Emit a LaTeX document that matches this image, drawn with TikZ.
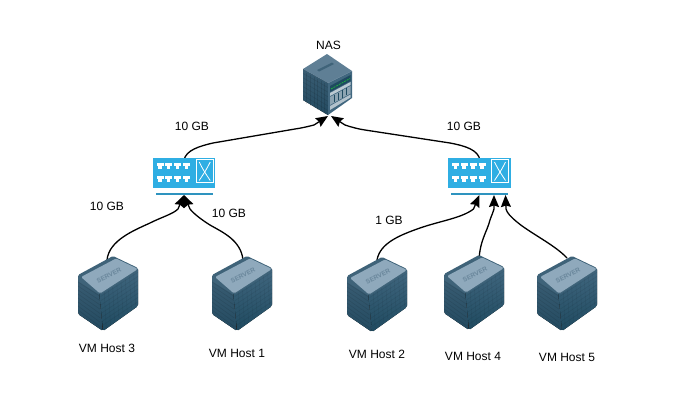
\documentclass[tikz,border=0pt]{standalone}
\usepackage{fontspec}
\setmainfont{Liberation Sans}
\usetikzlibrary{arrows.meta}
\definecolor{swblue}{HTML}{2FAEE3}
\definecolor{swbar}{HTML}{2E93BF}
\definecolor{srvtop}{HTML}{8FA9BC}
\definecolor{srvtopd}{HTML}{6A879C}
\definecolor{srvband}{HTML}{3F6379}
\definecolor{srvl}{HTML}{3A5D73}
\definecolor{srvld}{HTML}{234A60}
\definecolor{srvr}{HTML}{41677F}
\definecolor{srvrd}{HTML}{1F4A60}
\definecolor{nastop}{HTML}{5F7F95}
\tikzset{
  x=1pt,y=-1pt,
  lbl/.style={font=\fontsize{12}{14}\selectfont,text=black,inner sep=0pt},
  link/.style={line width=1.3pt,black,line cap=round,-{Stealth[length=12pt,width=10pt,inset=1.5pt]}},
  server/.pic={
    \fill[rounded corners=1.5pt,top color=srvr,bottom color=srvrd] (21,36) -- (60,12) -- (60,50) -- (25,75) -- cycle;
    \fill[rounded corners=1.5pt,top color=srvl,bottom color=srvld] (0,22) -- (21,36) -- (25,75) -- (0,58) -- cycle;
    \foreach \i in {1,...,8}{
      \draw[black,opacity=.10,line width=.5pt] (0,{22+4*\i}) -- (22,{36+4.3*\i});
      \draw[black,opacity=.08,line width=.5pt] (23,{36+4.3*\i}) -- (60,{12+4.2*\i});
      \draw[black,opacity=.07,line width=.5pt] ({22+4.2*\i},{38-2.7*\i}) -- ({24+4.2*\i},{74-3.1*\i});
    }
    \fill[rounded corners=1.5pt,srvband] (0,19) -- (35,0) -- (60,12) -- (60,15) -- (22,39) -- (0,25) -- cycle;
    \fill[rounded corners=1.5pt,srvtop] (3,21) -- (38,2.5) -- (60,13) -- (22,37.5) -- cycle;
    \node[rotate=27,text=srvtopd,font=\fontsize{6.5}{7}\selectfont\bfseries,inner sep=0pt] at (31,19) {SERVER};
  },
  nasbox/.pic={
    \fill[top color=srvl,bottom color=srvld] (0,15) -- (25,29) -- (25,61) -- (0,46) -- cycle;
    \foreach \i in {1,...,6}{
      \draw[black,opacity=.10,line width=.5pt] (0,{15+4.4*\i}) -- (25,{29+4.6*\i});
      \draw[black,opacity=.10,line width=.5pt] ({3.6*\i},{17+2*\i}) -- ({3.6*\i},{48+2*\i});
    }
    \fill[srvr] (25,29) -- (49,17) -- (49,44) -- (25,61) -- cycle;
    \fill[nastop] (0,15) -- (24,0) -- (49,17) -- (25,29) -- cycle;
    \fill[srvband] (14,16) -- (29,8.5) -- (31,10) -- (16,17.5) -- cycle;
    \fill[srvrd] (27,32) -- (47.5,21) -- (47.5,27) -- (27,38) -- cycle;
    \draw[green!55!srvr,line width=.7pt,dash pattern=on 2pt off 1pt] (28,35) -- (47,24.5);
    \fill[white!65!srvr] (27,39) -- (47.5,28) -- (47.5,31) -- (27,42) -- cycle;
    \fill[white!40!srvr] (27,43) -- (47.5,32) -- (47.5,39.5) -- (27,51) -- cycle;
    \foreach \i in {1,...,4}
      \draw[srvrd,line width=.8pt] ({27+4.1*\i},{43-2.2*\i}) -- ({27+4.1*\i},{50.5-2.3*\i});
    \fill[white!60!srvr] (27,52) -- (47.5,40.5) -- (47.5,43.5) -- (27,56) -- cycle;
  },
  switchbox/.pic={
    \fill[swblue] (0,0) rectangle (62.5,30);
    \foreach \x in {7.3,16,25,34}\foreach \y in {4.5,17.5}{
      \fill[white] (\x-3.5,\y) rectangle (\x+3.5,\y+3.5);
      \fill[white] (\x-1.6,\y+3.5) rectangle (\x+1.6,\y+6.5);
    }
    \draw[white,line width=.9pt] (43.5,1.8) rectangle (60.5,24.5);
    \draw[white,line width=.8pt] (46.5,4) .. controls (51,13) and (52,14) .. (57.5,22.5);
    \draw[white,line width=.8pt] (57.5,4) .. controls (53,13) and (52,14) .. (46.5,22.5);
    \fill[swbar] (3,34.5) rectangle (60,36.5);
  }
}
\begin{document}
\begin{tikzpicture}
\useasboundingbox (0,0) rectangle (675,405);
\fill[white] (0,0) rectangle (675,405);

\coordinate (nasL) at (328,116);
\coordinate (nasR) at (331,116);
\coordinate (swLt) at (184,160);
\coordinate (swRt) at (480,160);
\coordinate (swLb) at (184,195);
\coordinate (swRb1) at (479.5,195);
\coordinate (swRb2) at (494,195);
\coordinate (swRb3) at (505.5,195);
\coordinate (h3) at (107,260);
\coordinate (h1) at (243,260);
\coordinate (h2) at (377,260);
\coordinate (h4) at (479,260);
\coordinate (h5) at (567,258);

\draw[link] (swLt) .. controls (186,150) and (200,146) .. (213,143) -- (295,129) .. controls (302,128) and (308,126.5) .. (314,125) -- (nasL);
\draw[link] (swRt) .. controls (478,150) and (466,146) .. (450,143) -- (365,130) .. controls (358,129) and (351,127) .. (345,125) -- (nasR);
\draw[link] (h3) .. controls (109,240) and (135,230) .. (150,223) .. controls (162,217) and (173,214) .. (178,209) -- (swLb);
\draw[link] (h1) .. controls (241,240) and (222,232) .. (210,225) .. controls (202,220) and (194,214) .. (190,209) -- (swLb);
\draw[link] (h2) .. controls (380,243) and (400,235) .. (420,228) .. controls (440,221) and (462,218) .. (473.5,209) -- (swRb1);
\draw[link] (h4) .. controls (480,240) and (487,232) .. (490,220) .. controls (492,214) and (493,213) .. (494,209) -- (swRb2);
\draw[link] (h5) .. controls (555,245) and (530,233) .. (517,222) .. controls (511,217) and (507,213) .. (506,209) -- (swRb3);

\pic at (303,54) {nasbox};
\pic at (152.7,158) {switchbox};
\pic at (448,158) {switchbox};
\pic at (78,256) {server};
\pic at (212,256) {server};
\pic at (347,257) {server};
\pic at (444,255) {server};
\pic at (537,256) {server};

\node[lbl] (tNAS) at (328.5,45) {NAS};
\node[lbl] (t1) at (192,126) {10 GB};
\node[lbl] (t2) at (464,126) {10 GB};
\node[lbl] (t3) at (107,206) {10 GB};
\node[lbl] (t4) at (229,213) {10 GB};
\node[lbl] (t5) at (389,220) {1 GB};
\node[lbl] (v3) at (107,348) {VM Host 3};
\node[lbl] (v1) at (237,353) {VM Host 1};
\node[lbl] (v2) at (377,354) {VM Host 2};
\node[lbl] (v4) at (473,356) {VM Host 4};
\node[lbl] (v5) at (567,357) {VM Host 5};
\end{tikzpicture}
\end{document}
